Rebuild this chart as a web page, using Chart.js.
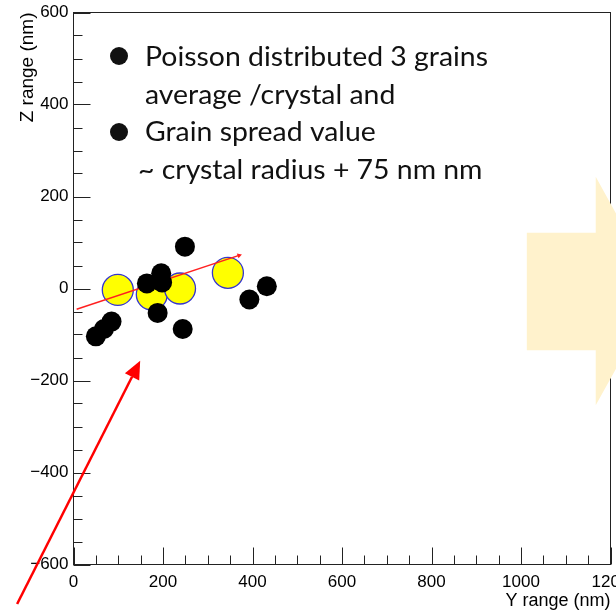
<!DOCTYPE html>
<html>
<head>
<meta charset="utf-8">
<script src="https://cdn.jsdelivr.net/npm/chart.js@4"></script>
<style>
  html, body { margin: 0; padding: 0; background: #fff; }
  canvas { display: block; }
</style>
</head>
<body>
<canvas id="c" width="616" height="613"></canvas>
<script>
// Crystal centres (Y, Z) in nm
const crystalY = [99, 175, 238, 345];
const crystalZ = [-3, -13, 0, 34];

// Developed grain positions (Y, Z) in nm
const grainY = [50, 68, 85, 164, 196, 198, 249, 188, 244, 393, 432];
const grainZ = [-104, -88, -72, 11, 33, 13, 91, -53, -88, -24, 5];

// Straight track fitted through the crystals
const trackY = [7, 370];
const trackZ = [-45, 72];

// Labelled axis ticks
const yRangeTicks = [0, 200, 400, 600, 800, 1000, 1200];
const zRangeTicks = [-600, -400, -200, 0, 200, 400, 600];

// Notes written over the frame
const noteLines = [
  'Poisson distributed 3 grains',
  'average /crystal and',
  'Grain spread value',
  '~ crystal radius + 75 nm nm'
];

// Red pointer arrow (tail, head) and the pale block arrow outline, in nm
const pointerTail = [-126, -686];
const pointerHead = [149, -157];
const blockArrowY = [1013, 1167, 1167, 1308, 1167, 1167, 1013];
const blockArrowZ = [121, 121, 243, -6, -254, -134, -134];

const AXIS_FONT = 'Liberation Sans, Arial, Helvetica, sans-serif';
// Frame margins inside the canvas (px)
const FRAME = { left: 73.5, right: 5.5, top: 12.5, bottom: 48.5 };

const toPoints = (xs, ys) => xs.map((x, i) => ({ x: x, y: ys[i] }));
const fmtTick = v => (v < 0 ? '\u2212' + Math.abs(v) : String(v));

// Pin the plot frame to fixed margins so the last tick label may run off the edge
const framePinPlugin = {
  id: 'framePin',
  afterLayout(chart) {
    const W = chart.width, H = chart.height;
    const a = chart.chartArea;
    a.left = FRAME.left; a.right = W - FRAME.right;
    a.top = FRAME.top; a.bottom = H - FRAME.bottom;
    a.width = a.right - a.left; a.height = a.bottom - a.top;
    const x = chart.scales.x, y = chart.scales.y;
    x.left = a.left; x.right = a.right; x.width = a.width;
    x.top = a.bottom; x.bottom = H; x.height = H - a.bottom;
    y.left = 0; y.right = a.left; y.width = a.left;
    y.top = a.top; y.bottom = a.bottom; y.height = a.height;
    x.configure();
    y.configure();
  }
};

// ROOT-style frame with inward tick marks
const framePlugin = {
  id: 'frame',
  beforeDatasetsDraw(chart) {
    const { ctx, chartArea: a, scales } = chart;
    ctx.save();
    ctx.strokeStyle = '#222';
    ctx.lineWidth = 1;
    ctx.strokeRect(a.left, a.top, a.right - a.left, a.bottom - a.top);
    ctx.beginPath();
    scales.x.ticks.forEach(t => {
      const p = Math.round(scales.x.getPixelForValue(t.value)) + 0.5;
      const len = yRangeTicks.includes(t.value) ? 17 : 9;
      ctx.moveTo(p, a.bottom);
      ctx.lineTo(p, a.bottom - len);
    });
    scales.y.ticks.forEach(t => {
      const p = Math.round(scales.y.getPixelForValue(t.value)) + 0.5;
      const len = zRangeTicks.includes(t.value) ? 17 : 9;
      ctx.moveTo(a.left, p);
      ctx.lineTo(a.left + len, p);
    });
    ctx.stroke();
    ctx.restore();
  }
};

// Block arrow, red pointer and notes
const overlayPlugin = {
  id: 'overlay',
  afterDraw(chart) {
    const { ctx, scales } = chart;
    const X = v => scales.x.getPixelForValue(v);
    const Y = v => scales.y.getPixelForValue(v);
    ctx.save();

    // pale block arrow
    ctx.fillStyle = '#fff2cc';
    ctx.beginPath();
    blockArrowY.forEach((y, i) => {
      const px = X(y), py = Y(blockArrowZ[i]);
      if (i === 0) ctx.moveTo(px, py); else ctx.lineTo(px, py);
    });
    ctx.closePath();
    ctx.fill();

    // red pointer arrow
    const x0 = X(pointerTail[0]), y0 = Y(pointerTail[1]);
    const x1 = X(pointerHead[0]), y1 = Y(pointerHead[1]);
    const ang = Math.atan2(y1 - y0, x1 - x0);
    const headLen = 18, headHalf = 8;
    const bx = x1 - headLen * Math.cos(ang), by = y1 - headLen * Math.sin(ang);
    ctx.strokeStyle = '#ff0000';
    ctx.fillStyle = '#ff0000';
    ctx.lineWidth = 2.5;
    ctx.beginPath();
    ctx.moveTo(x0, y0);
    ctx.lineTo(bx, by);
    ctx.stroke();
    ctx.beginPath();
    ctx.moveTo(x1, y1);
    ctx.lineTo(bx + headHalf * Math.sin(ang), by - headHalf * Math.cos(ang));
    ctx.lineTo(bx - headHalf * Math.sin(ang), by + headHalf * Math.cos(ang));
    ctx.closePath();
    ctx.fill();

    // notes
    ctx.fillStyle = '#111';
    ctx.textBaseline = 'alphabetic';
    ctx.textAlign = 'left';
    ctx.font = '27px Lato, "Open Sans", sans-serif';
    const sx = 343 / ctx.measureText(noteLines[0]).width;
    const lines = [
      { t: noteLines[0], x: 145, y: 65.5 },
      { t: noteLines[1], x: 145, y: 104 },
      { t: noteLines[2], x: 145, y: 141 },
      { t: noteLines[3], x: 138, y: 178.5 }
    ];
    lines.forEach(l => {
      ctx.save();
      ctx.translate(l.x, l.y);
      ctx.scale(sx, 1);
      ctx.fillText(l.t, 0, 0);
      ctx.restore();
    });
    // bullets
    [56, 132].forEach(cy => {
      ctx.beginPath();
      ctx.arc(119, cy, 9, 0, Math.PI * 2);
      ctx.fill();
    });
    ctx.restore();
  }
};

new Chart(document.getElementById('c'), {
  type: 'scatter',
  data: {
    datasets: [
      {
        label: 'grains',
        data: toPoints(grainY, grainZ),
        order: 0,
        pointRadius: 10,
        pointHoverRadius: 10,
        backgroundColor: '#000',
        borderColor: '#000',
        borderWidth: 0
      },
      {
        type: 'line',
        label: 'track',
        data: toPoints(trackY, trackZ),
        order: 1,
        borderColor: '#ff2020',
        borderWidth: 1.5,
        pointRadius: [0, 3],
        pointStyle: 'triangle',
        pointRotation: 71.5,
        pointBackgroundColor: '#ff2020',
        pointBorderWidth: 0,
        fill: false
      },
      {
        label: 'crystals',
        data: toPoints(crystalY, crystalZ),
        order: 2,
        pointRadius: 15.5,
        pointHoverRadius: 15.5,
        backgroundColor: '#ffff00',
        borderColor: '#3535d0',
        borderWidth: 1.3
      }
    ]
  },
  options: {
    responsive: false,
    animation: false,
    events: [],
    layout: { padding: { left: 0, right: 5.5, top: 12.5, bottom: 0 } },
    plugins: { legend: { display: false }, tooltip: { enabled: false } },
    scales: {
      x: {
        type: 'linear',
        min: 0,
        max: 1200,
        grid: { display: false, drawTicks: false },
        border: { display: false },
        ticks: {
          stepSize: 50,
          autoSkip: false,
          maxRotation: 0,
          padding: 8,
          color: '#000',
          font: { family: AXIS_FONT, size: 17 },
          callback: v => (yRangeTicks.includes(v) ? fmtTick(v) : '')
        },
        title: {
          display: true,
          text: 'Y range (nm)',
          align: 'end',
          color: '#000',
          font: { family: AXIS_FONT, size: 18 },
          padding: { top: 0, bottom: 1 }
        }
      },
      y: {
        type: 'linear',
        min: -600,
        max: 600,
        grid: { display: false, drawTicks: false },
        border: { display: false },
        ticks: {
          stepSize: 50,
          autoSkip: false,
          padding: 5,
          color: '#000',
          font: { family: AXIS_FONT, size: 17 },
          callback: v => (zRangeTicks.includes(v) ? fmtTick(v) : '')
        },
        title: {
          display: true,
          text: 'Z range (nm)',
          align: 'end',
          color: '#000',
          font: { family: AXIS_FONT, size: 19 },
          padding: { top: 16, bottom: 0 }
        }
      }
    }
  },
  plugins: [framePinPlugin, framePlugin, overlayPlugin]
});
</script>
</body>
</html>
